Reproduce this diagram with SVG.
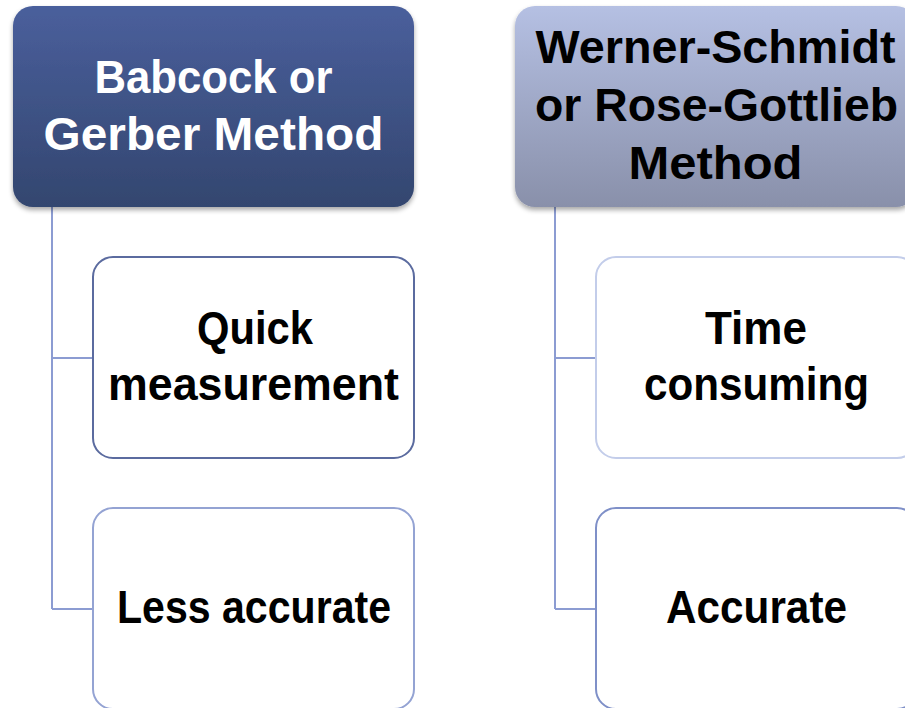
<svg xmlns="http://www.w3.org/2000/svg" width="905" height="708" viewBox="0 0 905 708">
<defs>
<linearGradient id="gDark" x1="0" y1="0" x2="0" y2="1">
<stop offset="0" stop-color="#4a5f9c"/>
<stop offset="1" stop-color="#33466f"/>
</linearGradient>
<linearGradient id="gLight" x1="0" y1="0" x2="0" y2="1">
<stop offset="0" stop-color="#b5c0e3"/>
<stop offset="1" stop-color="#8990aa"/>
</linearGradient>
<filter id="sh" x="-10%" y="-10%" width="120%" height="125%">
<feGaussianBlur in="SourceAlpha" stdDeviation="2.5"/>
<feOffset dx="0" dy="3" result="b"/>
<feComponentTransfer><feFuncA type="linear" slope="0.35"/></feComponentTransfer>
<feMerge><feMergeNode/><feMergeNode in="SourceGraphic"/></feMerge>
</filter>
</defs>
<style>
text{font-family:"Liberation Sans",Arial,sans-serif;font-weight:bold;font-size:46px;text-anchor:middle}
.w{fill:#ffffff}
.k{fill:#000000}
.conn{fill:none;stroke:#8c9cd2;stroke-width:2}
.child{fill:#ffffff;stroke-width:2}
</style>
<g id="connectors">
<path class="conn" d="M52,207 V609 M52,358 H93 M52,609 H93"/>
<path class="conn" d="M555,207 V609 M555,358 H596 M555,609 H596"/>
</g>
<g id="babcock">
<rect x="13" y="6" width="401" height="201" rx="20" fill="url(#gDark)" filter="url(#sh)"/>
<text class="w" x="213.5" y="93" textLength="238" lengthAdjust="spacingAndGlyphs">Babcock or</text>
<text class="w" x="213.5" y="150" textLength="340" lengthAdjust="spacingAndGlyphs">Gerber Method</text>
</g>
<g id="werner">
<rect x="515" y="6" width="401" height="201" rx="20" fill="url(#gLight)" filter="url(#sh)"/>
<text class="k" x="715.5" y="63" textLength="360" lengthAdjust="spacingAndGlyphs">Werner-Schmidt</text>
<text class="k" x="716.5" y="121" textLength="363" lengthAdjust="spacingAndGlyphs">or Rose-Gottlieb</text>
<text class="k" x="715.5" y="179" textLength="174" lengthAdjust="spacingAndGlyphs">Method</text>
</g>
<g id="quick">
<rect class="child" x="93" y="257" width="321" height="201" rx="20" stroke="#5b6b9f"/>
<text class="k" x="255" y="344" textLength="116" lengthAdjust="spacingAndGlyphs">Quick</text>
<text class="k" x="253.5" y="400" textLength="291" lengthAdjust="spacingAndGlyphs">measurement</text>
</g>
<g id="less">
<rect class="child" x="93" y="508" width="321" height="201" rx="20" stroke="#94a3d3"/>
<text class="k" x="254" y="623" textLength="274" lengthAdjust="spacingAndGlyphs">Less accurate</text>
</g>
<g id="time">
<rect class="child" x="596" y="257" width="321" height="201" rx="20" stroke="#c3cdea"/>
<text class="k" x="756" y="344" textLength="102" lengthAdjust="spacingAndGlyphs">Time</text>
<text class="k" x="756.5" y="400" textLength="225" lengthAdjust="spacingAndGlyphs">consuming</text>
</g>
<g id="accurate">
<rect class="child" x="596" y="508" width="321" height="201" rx="20" stroke="#7f90c8"/>
<text class="k" x="756.5" y="623" textLength="181" lengthAdjust="spacingAndGlyphs">Accurate</text>
</g>
</svg>
